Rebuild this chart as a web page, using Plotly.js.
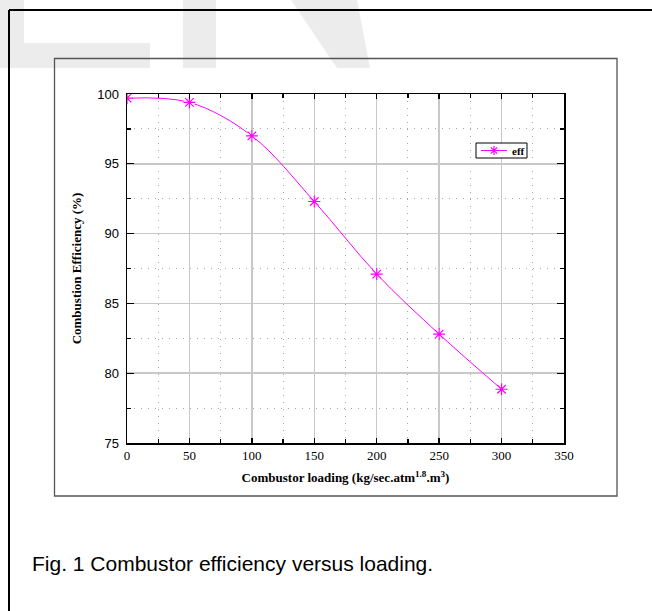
<!DOCTYPE html>
<html>
<head>
<meta charset="utf-8">
<script src="https://cdn.plot.ly/plotly-3.0.1.min.js"></script>
<style>html,body{margin:0;padding:0;background:#fff;}#chart{width:652px;height:611px;}</style>
</head>
<body>
<div id="chart"></div>
<script>
// ---- data ----
const loading = [0, 50, 100, 150, 200, 250, 300];
const efficiency = [99.7, 99.4, 97.0, 92.3, 87.1, 82.8, 78.85];
const xTickVals = [0, 50, 100, 150, 200, 250, 300, 350];
const yTickVals = [75, 80, 85, 90, 95, 100];
const seriesName = 'eff';

// ---- page geometry (pixels) ----
const W = 652, H = 611;
const M = {l: 127, r: 88, t: 94, b: 168};
const PW = W - M.l - M.r, PH = H - M.t - M.b;
const px = x => (x - M.l) / PW;
const py = y => (M.t + PH - y) / PH;

const MAG = '#ff00ff';
const serif = 'Liberation Serif, Times New Roman, serif';
const sans = 'Liberation Sans, Arial, sans-serif';

const starMarker = {symbol: 'asterisk-open', size: 10, color: MAG, line: {color: MAG, width: 1.2}};
const traces = [
  {x: loading, y: efficiency, name: seriesName, mode: 'lines', showlegend: false,
   line: {color: MAG, width: 1, shape: 'spline', smoothing: 1}, hoverinfo: 'x+y'},
  {x: loading, y: efficiency, mode: 'markers', showlegend: false, hoverinfo: 'skip',
   marker: {symbol: 'circle', size: 11, color: '#ffffff', line: {width: 0}}},
  {x: loading, y: efficiency, name: seriesName, mode: 'markers', showlegend: false, hoverinfo: 'skip',
   marker: starMarker}
];

function poly(pts) {
  return 'M' + pts.map(p => px(p[0]).toFixed(5) + ',' + py(p[1]).toFixed(5)).join('L') + 'Z';
}
const wm = '#ececec';
// legend geometry (pixels)
const LG = {x0: 476, x1: 527, y0: 143, y1: 158, lineX0: 481, lineX1: 507, symX: 494, textX: 510};
const LGy = (LG.y0 + LG.y1) / 2;
const r = 4.5, d = 3.2;
const starPath = `M${-r},0L${r},0M0,${-r}L0,${r}M${-d},${-d}L${d},${d}M${-d},${d}L${d},${-d}`;

const shapes = [
  // light watermark letters at the top
  {type: 'path', xref: 'paper', yref: 'paper', layer: 'below', fillcolor: wm, line: {width: 0},
   path: poly([[0, 0], [24, 0], [24, 43], [150, 43], [150, 68], [0, 68]])},
  {type: 'path', xref: 'paper', yref: 'paper', layer: 'below', fillcolor: wm, line: {width: 0},
   path: poly([[183, 0], [216, 0], [216, 68], [183, 68]])},
  {type: 'path', xref: 'paper', yref: 'paper', layer: 'below', fillcolor: wm, line: {width: 0},
   path: poly([[291, 0], [357, 0], [370, 68], [337, 68]])},
  // outer frame (left and top)
  {type: 'line', xref: 'paper', yref: 'paper', layer: 'above', x0: px(9), x1: px(9), y0: py(10), y1: py(H),
   line: {color: '#000', width: 2}},
  {type: 'line', xref: 'paper', yref: 'paper', layer: 'above', x0: px(9), x1: px(W), y0: py(10), y1: py(10),
   line: {color: '#000', width: 2}},
  // inner figure box
  {type: 'rect', xref: 'paper', yref: 'paper', layer: 'above', x0: px(54.5), x1: px(617), y0: py(58.5), y1: py(496),
   line: {color: '#555', width: 1.3}, fillcolor: 'rgba(0,0,0,0)'},
  // legend box
  {type: 'rect', xref: 'paper', yref: 'paper', layer: 'above', x0: px(LG.x0), x1: px(LG.x1), y0: py(LG.y0), y1: py(LG.y1),
   line: {color: '#000', width: 1}, fillcolor: '#fff'},
  {type: 'line', xref: 'paper', yref: 'paper', layer: 'above', x0: px(LG.lineX0), x1: px(LG.lineX1), y0: py(LGy), y1: py(LGy),
   line: {color: MAG, width: 1}},
  {type: 'path', xref: 'paper', yref: 'paper', layer: 'above', xsizemode: 'pixel', ysizemode: 'pixel',
   xanchor: px(LG.symX), yanchor: py(LGy), path: starPath, line: {color: MAG, width: 1.2}}
];

const axisCommon = {
  showline: true, linecolor: '#000', linewidth: 1.5, mirror: 'ticks',
  ticks: 'inside', tickcolor: '#000', tickwidth: 1.3,
  showgrid: true, gridcolor: '#c8c8c8', gridwidth: 1.5,
  zeroline: false, fixedrange: true
};

const layout = {
  width: W, height: H, margin: M, autosize: false,
  paper_bgcolor: '#fff', plot_bgcolor: '#fff',
  showlegend: false,
  xaxis: Object.assign({}, axisCommon, {
    range: [0, 350], tickmode: 'array', tickvals: xTickVals, ticktext: xTickVals.map(String), ticklen: 5,
    tickfont: {family: serif, size: 13, color: '#000'},
    minor: {dtick: 25, ticks: 'inside', ticklen: 4, tickcolor: '#000', tickwidth: 1.2,
            showgrid: true, gridcolor: '#a8a8a8', gridwidth: 1, griddash: '1px,6px'},
    title: {text: '<b>Combustor loading (kg/sec.atm<sup>1.8</sup>.m<sup>3</sup>)</b>',
            font: {family: serif, size: 13, color: '#000'}, standoff: 11}
  }),
  yaxis: Object.assign({}, axisCommon, {
    range: [75, 100], tickmode: 'array', tickvals: yTickVals, ticktext: yTickVals.map(String), ticklen: 7,
    tickfont: {family: sans, size: 13, color: '#000'}, ticklabelstandoff: 4,
    minor: {dtick: 2.5, ticks: 'inside', ticklen: 4, tickcolor: '#000', tickwidth: 1.2,
            showgrid: true, gridcolor: '#a8a8a8', gridwidth: 1, griddash: '1px,6px'},
    title: {text: '<b>Combustion Efficiency (%)</b>',
            font: {family: serif, size: 13, color: '#000'}, standoff: 12}
  }),
  shapes: shapes,
  annotations: [
    {xref: 'paper', yref: 'paper', x: px(LG.textX), y: py(LGy), xanchor: 'left', yanchor: 'middle',
     showarrow: false, text: '<b>' + seriesName + '</b>',
     font: {family: serif, size: 11, color: '#000'}},
    {xref: 'paper', yref: 'paper', x: px(30), y: py(563), xanchor: 'left', yanchor: 'middle',
     showarrow: false, text: 'Fig. 1 Combustor efficiency versus loading.',
     font: {family: sans, size: 21, color: '#000'}}
  ]
};

Plotly.newPlot('chart', traces, layout, {displayModeBar: false, staticPlot: true});
</script>
</body>
</html>
